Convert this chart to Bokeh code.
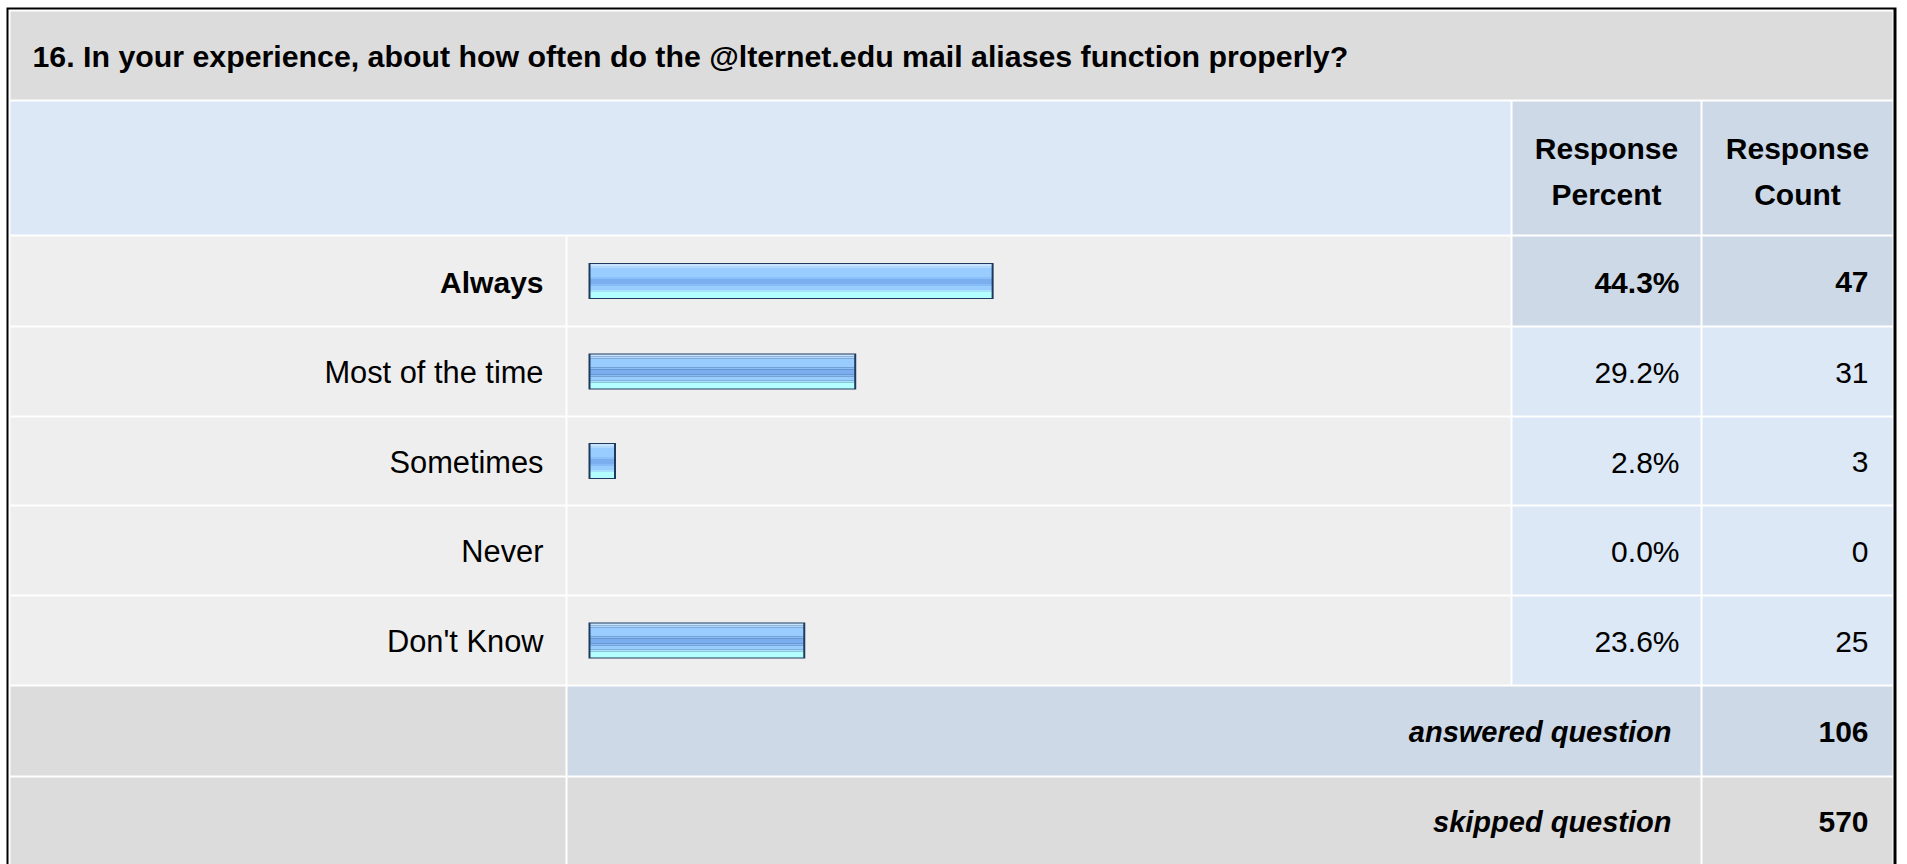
from bokeh.plotting import figure
from bokeh.models import Range1d
from bokeh.core.properties import value
from bokeh.embed import file_html
from bokeh.resources import INLINE

# ---------------- data ----------------
title = "16. In your experience, about how often do the @lternet.edu mail aliases function properly?"
categories = ["Always", "Most of the time", "Sometimes", "Never", "Don't Know"]
percents = [44.3, 29.2, 2.8, 0.0, 23.6]
counts = [47, 31, 3, 0, 25]
header_percent = ["Response", "Percent"]
header_count = ["Response", "Count"]
answered_label = "answered question"
answered = 106
skipped_label = "skipped question"
skipped = 570

# ---------------- layout (page pixel coords) ----------------
W, H = 1900, 864
FONT = value("Liberation Sans")
FS = "30px"

p = figure(width=W, height=H, output_backend="svg", toolbar_location=None,
           x_range=Range1d(0, W), y_range=Range1d(H, 0),
           x_axis_type=None, y_axis_type=None, min_border=0)
p.outline_line_color = None
p.background_fill_color = "white"
p.border_fill_color = "white"
p.grid.visible = False

def rect(x0, x1, y0, y1, color):
    p.quad(left=x0, right=x1, top=y0, bottom=y1, fill_color=color, line_color=None)

def txt(x, y, s, style="normal", align="right", size=FS):
    p.text(x=[x], y=[y], text=[s], text_font=FONT, text_font_size=size,
           text_font_style=style, text_baseline="middle", text_align=align,
           text_color="#000000")

# outer frame
rect(6, 1896, 7, 880, "#000000")
rect(8, 1893, 9, 880, "#ffffff")

TITLE_BG = "#dcdcdc"
HEAD_BG = "#dce8f5"
HEAD_DARK = "#cdd9e6"
ROW_BG = "#eeeeee"

C0, C1 = 10, 565      # label column
B0, B1 = 567, 1510    # bar column
P0, P1 = 1512, 1700   # percent column
N0, N1 = 1702, 1892   # count column

# title row
rect(C0, N1, 11, 99, TITLE_BG)
txt(32, 56, title, style="bold", align="left", size="30.3px")

# header row
rect(C0, B1, 101, 234, HEAD_BG)
rect(P0, P1, 101, 234, HEAD_DARK)
rect(N0, N1, 101, 234, HEAD_DARK)
for cx, lines in [((P0 + P1) / 2, header_percent), ((N0 + N1) / 2, header_count)]:
    txt(cx, 148, lines[0], style="bold", align="center")
    txt(cx, 194, lines[1], style="bold", align="center")

# data rows
row_tops = [236, 327, 417, 506, 596]
row_bots = [325, 415, 504, 594, 684]
best = max(range(len(counts)), key=lambda i: counts[i])
SCALE = 9.1
stripes = [
    (0, 2, "#c6e4ff"), (2, 4, "#b0d8ff"), (4, 13, "#99ccff"), (13, 15, "#8cc0f8"),
    (15, 20, "#7aaeee"), (20, 22, "#88bcf6"), (22, 26, "#99ccff"), (26, 28, "#a8e0ff"),
    (28, 34, "#b3ffff"),
]
for i, cat in enumerate(categories):
    t, b = row_tops[i], row_bots[i]
    cy = (t + b) / 2
    hi = (i == best)
    rect(C0, C1, t, b, ROW_BG)
    rect(B0, B1, t, b, ROW_BG)
    rect(P0, P1, t, b, HEAD_DARK if hi else HEAD_BG)
    rect(N0, N1, t, b, HEAD_DARK if hi else HEAD_BG)
    style = "bold" if hi else "normal"
    txt(543, cy + 1, cat, style=style, size="30px" if hi else "30.8px")
    txt(1679, cy + 1, f"{percents[i]:.1f}%", style=style)
    txt(1868, cy + 1, str(counts[i]), style=style)
    if counts[i] > 0:
        x0 = 588
        x1 = 588 + percents[i] * SCALE + 2
        by0 = cy - 18
        p.quad(left=[x0], right=[x1], top=[by0], bottom=[by0 + 36],
               fill_color="#1f3a5f", line_color=None)
        for s0, s1, col in stripes:
            p.quad(left=[x0 + 2], right=[x1 - 2], top=[by0 + 1 + s0],
                   bottom=[by0 + 1 + s1], fill_color=col, line_color=None)

# answered row
rect(C0, C1, 686, 775, TITLE_BG)
rect(B0, P1, 686, 775, HEAD_DARK)
rect(N0, N1, 686, 775, HEAD_DARK)
txt(1671, 731, answered_label, style="bold italic", size="29px")
txt(1868, 731, str(answered), style="bold")

# skipped row
rect(C0, C1, 777, 880, TITLE_BG)
rect(B0, P1, 777, 880, TITLE_BG)
rect(N0, N1, 777, 880, TITLE_BG)
txt(1671, 821, skipped_label, style="bold italic", size="29px")
txt(1868, 821, str(skipped), style="bold")

open("out.html", "w").write(file_html(p, INLINE))
